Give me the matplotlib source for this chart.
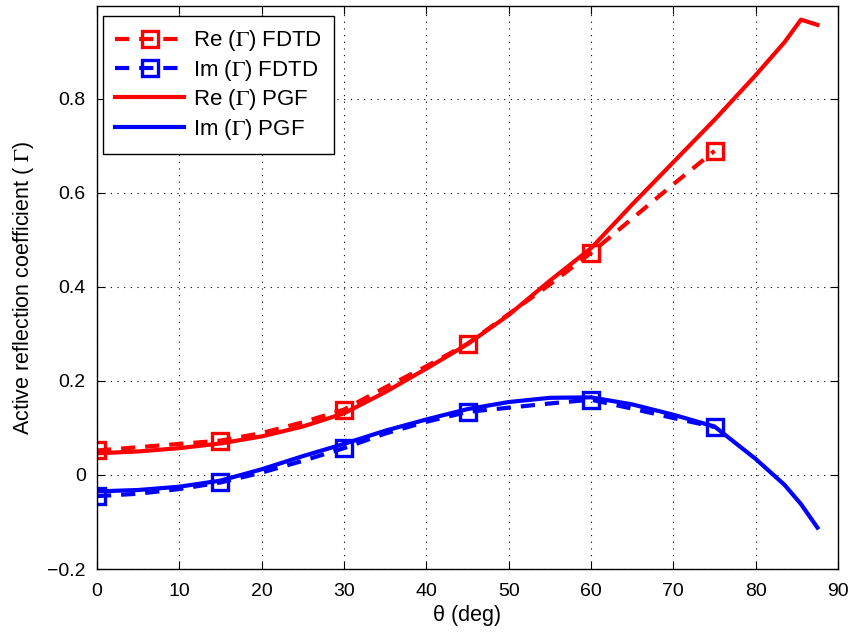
import matplotlib
matplotlib.use("Agg")
import matplotlib.pyplot as plt

plt.rcParams['font.family'] = ['Liberation Sans', 'DejaVu Sans']
plt.rcParams['mathtext.fontset'] = 'stix'

# FDTD data (markers every 15 deg)
theta_fdtd = [0, 5, 10, 15, 20, 25, 30, 35, 40, 45, 50, 55, 60, 65, 70, 75]
re_fdtd = [0.052, 0.059, 0.066, 0.073, 0.089, 0.112, 0.139, 0.186, 0.231, 0.279,
           0.342, 0.405, 0.472, 0.545, 0.618, 0.689]
im_fdtd = [-0.045, -0.040, -0.030, -0.016, 0.005, 0.030, 0.057, 0.088, 0.113, 0.134,
           0.143, 0.152, 0.160, 0.141, 0.121, 0.102]

# PGF data
theta_pgf = [0, 5, 10, 15, 20, 25, 30, 35, 40, 45, 50, 55, 60, 65, 70, 75, 80,
             83.5, 85.5, 87.5]
re_pgf = [0.046, 0.050, 0.057, 0.067, 0.082, 0.103, 0.131, 0.176, 0.226, 0.278,
          0.340, 0.413, 0.482, 0.575, 0.665, 0.755, 0.850, 0.920, 0.968, 0.957]
im_pgf = [-0.035, -0.032, -0.025, -0.012, 0.012, 0.040, 0.066, 0.094, 0.118, 0.140,
          0.155, 0.164, 0.165, 0.150, 0.128, 0.103, 0.034, -0.021, -0.062, -0.112]

xticks = [0, 10, 20, 30, 40, 50, 60, 70, 80, 90]
yticks = [-0.2, 0, 0.2, 0.4, 0.6, 0.8]
ytick_labels = ['\u22120.2', '0', '0.2', '0.4', '0.6', '0.8']

fig = plt.figure(figsize=(8.5, 6.34), dpi=100)
ax = fig.add_axes([0.1141, 0.1025, 0.8718, 0.888])

lw = 3.0
dash = (3.4, 2.4)
mk = dict(marker='s', markevery=3, markersize=11, markerfacecolor='none',
          markeredgewidth=2.4)
ax.plot(theta_fdtd, re_fdtd, color='#ff0000', lw=lw, dashes=dash,
        label=r'Re ($\Gamma$) FDTD', **mk)
ax.plot(theta_fdtd, im_fdtd, color='#0000ff', lw=lw, dashes=dash,
        label=r'Im ($\Gamma$) FDTD', **mk)
ax.plot(theta_pgf, re_pgf, color='#ff0000', lw=lw, label=r'Re ($\Gamma$) PGF')
ax.plot(theta_pgf, im_pgf, color='#0000ff', lw=lw, label=r'Im ($\Gamma$) PGF')

ax.set_xlim(0, 90)
ax.set_ylim(-0.2, 0.997)
ax.set_xticks(xticks)
ax.set_yticks(yticks)
ax.set_yticklabels(ytick_labels)
ax.tick_params(direction='in', top=True, right=True, length=6, width=0.8,
               labelsize=14, colors='black')
ax.tick_params(axis='y', pad=8)
ax.tick_params(axis='x', pad=10)
ax.grid(True, color='black', linestyle=(0, (1, 5)), linewidth=0.8)
for s in ax.spines.values():
    s.set_linewidth(1.0)

ax.set_xlabel('\u03b8 (deg)', fontsize=15.5, labelpad=4)
ax.set_ylabel(r'Active reflection coefficient ( $\Gamma$)', fontsize=15.5, labelpad=8)

leg = ax.legend(loc='upper left', fontsize=16, handlelength=3.1, handletextpad=0.4,
                labelspacing=0.2, borderpad=0.55, borderaxespad=0, fancybox=False,
                framealpha=1, edgecolor='black', bbox_to_anchor=(0.008, 0.982))
leg.get_frame().set_linewidth(1.0)

fig.savefig('out.png', dpi=100)
